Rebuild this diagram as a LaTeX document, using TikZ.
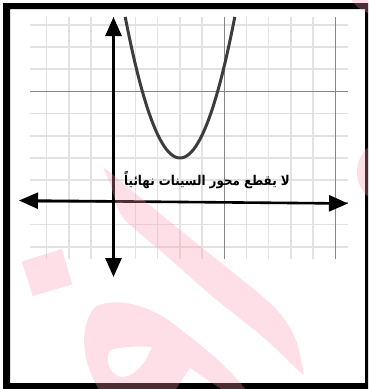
\documentclass[tikz,border=0pt]{standalone}
\usepackage{fontspec}
\newfontfamily\arabicfont[Script=Arabic]{DejaVu Sans Bold}
\TeXXeTstate=1
\usepackage{xcolor}
\usepackage{tikz}
\usetikzlibrary{arrows.meta}
\definecolor{wmpink}{RGB}{255,150,175}
\definecolor{minorgray}{RGB}{226,226,226}
\definecolor{majorgray}{RGB}{135,135,135}
\definecolor{curvegray}{RGB}{60,60,60}

\begin{document}
\begin{tikzpicture}[x=1pt,y=-1pt,
  minor/.style={minorgray,line width=1.5pt},
  major/.style={majorgray,line width=1.2pt},
  axis/.style={line width=2.6pt,{Triangle[length=19pt,width=16pt]}-{Triangle[length=19pt,width=16pt]}},
  curve/.style={curvegray,line width=3pt},
  wm/.style={fill=wmpink,opacity=0.3}]
\useasboundingbox (0,0) rectangle (368,389);
% grid
\begin{scope}
\clip (30,17) rectangle (348,259);
\foreach \i in {0,...,13}
  \draw[minor] ({46.7+22.2*\i},17)--({46.7+22.2*\i},259);
\foreach \j in {0,...,10}
  \draw[minor] (30,{24.8+22.2*\j})--(348,{24.8+22.2*\j});
\foreach \i in {3,8,13}
  \draw[major] ({46.7+22.2*\i},17)--({46.7+22.2*\i},259);
\foreach \j in {3,8}
  \draw[major] (30,{24.8+22.2*\j})--(348,{24.8+22.2*\j});
\end{scope}
% parabola
\draw[curve] plot[domain=-54.8:54.8,samples=80] ({180+\x},{158-0.047*\x*\x});
% axes
\coordinate (xleft) at (19,200.5);
\coordinate (xright) at (348,203.5);
\coordinate (ytop) at (113.5,17);
\coordinate (ybottom) at (113.5,277);
\draw[axis] (ybottom)--(ytop);
\draw[axis] (xleft)--(xright);
\node[font=\arabicfont\fontsize{13.5}{15}\selectfont,inner sep=0pt,xscale=0.88] (note) at (207,180)
  {\beginR لا يقطع محور السينات نهائياً\endR};
% frame
\fill[black,even odd rule] (3,3) rectangle (368,389) (10,9) rectangle (365,383);
% watermark
\begin{scope}
\clip (0,0) rectangle (368,389);
\fill[wm] plot[smooth cycle,tension=0.5] coordinates {(104,168) (125,185) (140,197) (180,230) (230,270) (270,303) (287,323) (297,343) (303,371) (300,372) (263,337) (213,297) (163,253) (130,225) (120,213) (115,200) (110,183)};
\fill[wm] (21.7,261.7)--(61.7,249)--(72.3,284.3)--(32.7,296)--cycle;
\fill[wm,even odd rule] (103,395) .. controls (84,370) and (76,330) .. (95,307)
  .. controls (115,296) and (150,305) .. (175,325)
  .. controls (200,345) and (225,362) .. (250,395) -- (230,395) -- (190,368) -- (172,395) -- cycle
  (110,350) .. controls (125,346) and (140,346) .. (152,347)
  .. controls (146,362) and (136,376) .. (123,377)
  .. controls (110,377) and (104,360) .. (110,350);
\fill[wm] (380,-20) circle (35);
\fill[wm] (390,172) circle (33);
\end{scope}
\end{tikzpicture}
\end{document}
